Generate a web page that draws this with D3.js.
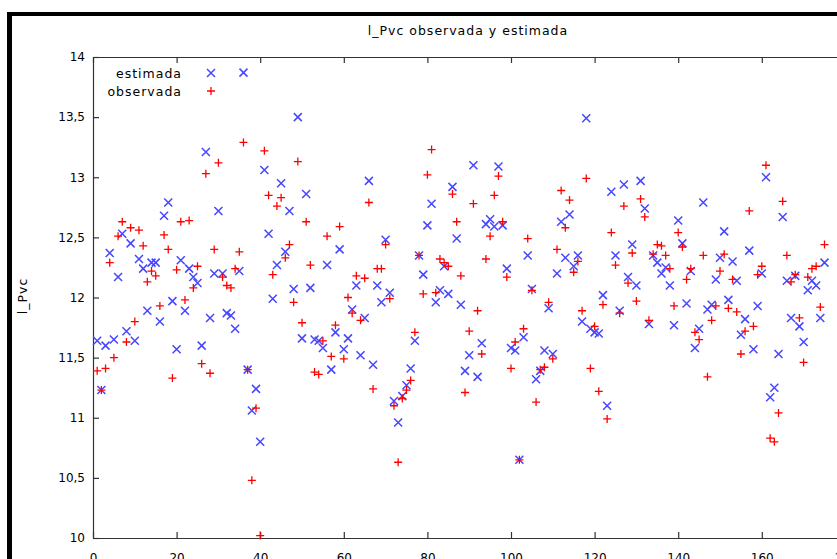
<!DOCTYPE html>
<html lang="es">
<head>
  <meta charset="UTF-8" />
  <title>l_Pvc observada y estimada</title>
  <style>
    html, body { margin: 0; padding: 0; background: #fff; }
    svg { display: block; }
    text { font-family: "DejaVu Sans", sans-serif; fill: #000; }
  </style>
</head>
<body>
  <div id="chart"></div>

  <script src="https://d3js.org/d3.v7.min.js"></script>
  <script>
    const title = "l_Pvc observada y estimada";
    const yLabel = "l_Pvc";
    const seriesNames = ["estimada", "observada"];

    const xTicks = [0, 20, 40, 60, 80, 100, 120, 140, 160, 180];
    const yTicks = [10, 10.5, 11, 11.5, 12, 12.5, 13, 13.5, 14];

    // l_Pvc estimada (obs 1..175)
    const estimada = [
      11.64, 11.23, 11.60, 12.37, 11.65, 12.17, 12.53, 11.72, 12.45, 11.64,
      12.32, 12.24, 11.89, 12.29, 12.29, 11.80, 12.68, 12.79, 11.97, 11.57,
      12.31, 11.89, 12.24, 12.17, 12.12, 11.60, 13.21, 11.83, 12.20, 12.72,
      12.20, 11.87, 11.85, 11.74, 12.22, 13.87, 11.40, 11.06, 11.24, 10.80,
      13.06, 12.53, 11.99, 12.27, 12.95, 12.38, 12.72, 12.07, 13.50, 11.66,
      12.86, 12.08, 11.65, 11.64, 11.58, 12.27, 11.40, 11.71, 12.40, 11.57,
      11.66, 11.90, 12.10, 11.52, 11.83, 12.97, 11.44, 12.10, 11.96, 12.48,
      12.04, 11.14, 10.96, 11.18, 11.27, 11.41, 11.64, 12.35, 12.19, 12.60,
      12.78, 11.96, 12.06, 12.26, 12.03, 12.92, 12.49, 11.94, 11.39, 11.52,
      13.10, 11.34, 11.62, 12.61, 12.65, 12.59, 13.09, 12.60, 12.24, 11.58,
      11.56, 10.65, 11.67, 12.35, 12.07, 11.32, 11.39, 11.56, 11.91, 11.53,
      12.20, 12.63, 12.33, 12.69, 12.26, 12.35, 11.80, 13.49, 11.74, 11.71,
      11.70, 12.02, 11.10, 12.88, 12.35, 11.89, 12.94, 12.17, 12.44, 12.10,
      12.97, 12.74, 11.78, 12.35, 12.29, 12.20, 12.25, 12.10, 11.77, 12.64,
      12.45, 11.95, 12.22, 11.58, 11.74, 12.79, 11.90, 11.94, 12.15, 12.33,
      12.55, 11.98, 12.30, 12.14, 11.69, 11.82, 12.39, 11.57, 11.93, 12.20,
      13.00, 11.17, 11.25, 11.53, 12.67, 12.14, 11.83, 12.18, 11.76, 11.63,
      12.06, 12.14, 12.10, 11.83, 12.29
    ];

    // l_Pvc observada (obs 1..175)
    const observada = [
      11.39, 11.23, 11.41, 12.29, 11.50, 12.51, 12.63, 11.63, 12.58, 11.80,
      12.56, 12.43, 12.13, 12.22, 12.18, 11.93, 12.52, 12.40, 11.33, 12.23,
      12.63, 11.98, 12.64, 12.08, 12.26, 11.45, 13.03, 11.37, 12.40, 13.12,
      12.17, 12.10, 12.08, 12.24, 12.38, 13.29, 11.40, 10.48, 11.08, 10.02,
      13.22, 12.85, 12.19, 12.76, 12.83, 12.33, 12.44, 11.96, 13.13, 11.79,
      12.63, 12.27, 11.38, 11.36, 11.64, 12.51, 11.51, 11.77, 12.59, 11.49,
      12.00, 11.87, 12.18, 11.81, 12.16, 12.79, 11.24, 12.24, 12.24, 12.44,
      11.99, 11.10, 10.63, 11.16, 11.23, 11.31, 11.71, 12.35, 12.03, 13.02,
      13.23, 12.04, 12.32, 12.29, 12.26, 12.86, 12.63, 12.18, 11.21, 11.72,
      12.78, 11.89, 11.53, 12.32, 12.51, 12.85, 13.01, 12.63, 12.17, 11.41,
      11.63, 10.65, 11.74, 12.49, 12.06, 11.13, 11.40, 11.42, 11.96, 11.49,
      12.40, 12.89, 12.58, 12.81, 12.21, 12.30, 11.89, 12.99, 11.41, 11.76,
      11.22, 11.94, 10.99, 12.54, 12.27, 11.87, 12.76, 12.12, 12.37, 11.97,
      12.82, 12.67, 11.81, 12.36, 12.44, 12.43, 12.35, 12.24, 11.93, 12.54,
      12.42, 12.15, 12.24, 11.71, 11.65, 12.35, 11.34, 11.81, 11.93, 12.22,
      12.36, 11.91, 12.15, 11.88, 11.53, 11.72, 12.72, 11.76, 12.19, 12.26,
      13.10, 10.83, 10.80, 11.04, 12.80, 12.35, 12.13, 12.19, 11.83, 11.46,
      12.17, 12.24, 12.26, 11.92, 12.44
    ];

    const W = 837, H = 559;
    const plot = {left: 93, top: 57, bottom: 538};
    const blue = "#4646ff", red = "#ff0000";

    const svg = d3.select("#chart").append("svg")
      .attr("width", W)
      .attr("height", H);

    // window frame (thick black edge on top and left)
    svg.append("rect").attr("x", 7).attr("y", 12).attr("width", W).attr("height", 4).attr("fill", "#000");
    svg.append("rect").attr("x", 7).attr("y", 12).attr("width", 5).attr("height", H).attr("fill", "#000");

    const x = d3.scaleLinear()
      .domain([0, 180])
      .range([plot.left, plot.left + 180 * 4.18]);

    const y = d3.scaleLinear()
      .domain([10, 14])
      .range([plot.bottom, plot.top]);

    const fmt = d3.formatLocale({decimal: ",", thousands: ".", grouping: [3], currency: ["", ""]}).format("~g");

    const axisColor = "#333";

    // bottom axis, ticks inward (labels fall partly below the picture, as in the original)
    const gx = svg.append("g")
      .attr("transform", `translate(0,${plot.bottom})`)
      .call(d3.axisBottom(x).tickValues(xTicks).tickSizeInner(-6).tickSizeOuter(0).tickPadding(15).tickFormat(d3.format("d")));
    // top mirror
    const gxt = svg.append("g")
      .attr("transform", `translate(0,${plot.top})`)
      .call(d3.axisTop(x).tickValues(xTicks).tickSizeInner(-6).tickSizeOuter(0).tickFormat(""));
    // left axis
    const gy = svg.append("g")
      .attr("transform", `translate(${plot.left},0)`)
      .call(d3.axisLeft(y).tickValues(yTicks).tickSizeInner(-6).tickSizeOuter(0).tickPadding(8).tickFormat(fmt));

    [gx, gxt, gy].forEach(g => {
      g.select(".domain").attr("stroke", axisColor).attr("stroke-width", 1.2);
      g.selectAll(".tick line").attr("stroke", axisColor).attr("stroke-width", 1.2);
      g.selectAll(".tick text").style("font-family", "DejaVu Sans, sans-serif").style("font-size", "12px").attr("fill", "#000");
    });

    // title and y label
    svg.append("text")
      .attr("x", 468).attr("y", 35)
      .attr("text-anchor", "middle")
      .style("font-size", "12.5px")
      .style("letter-spacing", "1px")
      .text(title);

    svg.append("text")
      .attr("transform", "translate(27,296) rotate(-90)")
      .attr("text-anchor", "middle")
      .style("font-size", "12.5px")
      .style("letter-spacing", "1px")
      .text(yLabel);

    // markers
    const xMark = (g, cx, cy, r) => g.append("path")
      .attr("d", `M${cx - r},${cy - r}L${cx + r},${cy + r}M${cx - r},${cy + r}L${cx + r},${cy - r}`);
    const plusMark = (g, cx, cy, r) => g.append("path")
      .attr("d", `M${cx - r},${cy}L${cx + r},${cy}M${cx},${cy - r}L${cx},${cy + r}`);

    const gEst = svg.append("g").attr("stroke", blue).attr("stroke-width", 1.5).attr("fill", "none");
    estimada.forEach((v, i) => xMark(gEst, x(i + 1), y(v), 4));

    const gObs = svg.append("g").attr("stroke", red).attr("stroke-width", 1.3).attr("fill", "none");
    observada.forEach((v, i) => plusMark(gObs, x(i + 1), y(v), 4));

    // legend
    const legend = svg.append("g");
    const legendMarks = [xMark, plusMark];
    const legendColors = [blue, red];
    seriesNames.forEach((name, k) => {
      const ly = 73 + k * 18;
      legend.append("text")
        .attr("x", 182).attr("y", ly + 5)
        .attr("text-anchor", "end")
        .style("font-size", "12.5px")
        .style("letter-spacing", "1px")
        .text(name);
      const m = legend.append("g").attr("stroke", legendColors[k])
        .attr("stroke-width", k === 0 ? 1.5 : 1.3).attr("fill", "none");
      legendMarks[k](m, 211, ly, 4);
    });
  </script>
</body>
</html>
